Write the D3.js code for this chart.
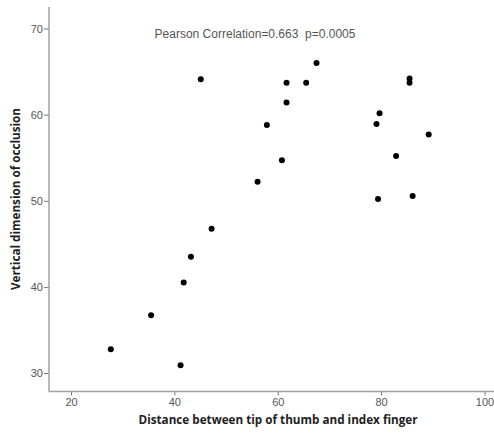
<!DOCTYPE html>
<html>
<head>
<meta charset="utf-8">
<script src="https://cdn.jsdelivr.net/npm/d3@7"></script>
<style>
  body { margin: 0; background: #fff; }
  svg { display: block; }
</style>
</head>
<body>
<svg width="494" height="437"></svg>
<script>
// distance between thumb and index finger (x) vs vertical dimension (y)
const distance = [67.5, 61.7, 65.5, 61.7, 57.9, 60.8, 56.1, 85.5, 85.5, 79.7, 79.1,
                  89.2, 82.9, 79.4, 86.1, 45.1, 47.2, 43.2, 41.8, 35.5, 27.7, 41.2]
const vertical = [66.0, 63.7, 63.7, 61.4, 58.8, 54.7, 52.2, 64.2, 63.7, 60.15, 58.9,
                  57.7, 55.2, 50.2, 50.55, 64.1, 46.75, 43.5, 40.5, 36.7, 32.75, 30.9]
const xTicks = [20, 40, 60, 80, 100]
const yTicks = [30, 40, 50, 60, 70]
const note = "Pearson Correlation=0.663  p=0.0005"

const svg = d3.select("svg")
const axisGrey = "#a0a0a0", textGrey = "#555"

const xScale = d3.scaleLinear().domain([20, 100]).range([71, 484.5])
const yScale = d3.scaleLinear().domain([30, 70]).range([373, 28.5])

const x0 = xScale.invert(49), yBottom = yScale.invert(391.5)

// x axis
const xAxis = d3.axisBottom(xScale).tickValues(xTicks).tickSize(4).tickSizeOuter(0)
const xg = svg.append("g").attr("transform", `translate(0,${yScale(yBottom)})`).call(xAxis)
xg.select(".domain").remove()
xg.append("line")
  .attr("x1", xScale(x0)).attr("x2", 494)
  .attr("stroke", axisGrey).attr("stroke-width", 1.5)

// y axis
const yAxis = d3.axisLeft(yScale).tickValues(yTicks).tickSize(5).tickSizeOuter(0)
const yg = svg.append("g").attr("transform", `translate(${xScale(x0)},0)`).call(yAxis)
yg.select(".domain").remove()
yg.append("line")
  .attr("y1", 7).attr("y2", yScale(yBottom))
  .attr("stroke", axisGrey).attr("stroke-width", 1.5)

svg.selectAll(".tick line").attr("stroke", "#777")
svg.selectAll(".tick text")
  .attr("fill", textGrey)
  .style("font-family", "'Liberation Sans', Arial, sans-serif")
  .style("font-size", "11px")
yg.selectAll(".tick text").attr("x", -6)
xg.selectAll(".tick text").attr("y", 7)

// points
svg.selectAll("circle.pt")
  .data(distance)
  .enter()
  .append("circle")
  .attr("class", "pt")
  .attr("r", 3)
  .attr("cx", d => xScale(d))
  .attr("cy", (d, i) => yScale(vertical[i]))
  .style("fill", "#000")

// correlation note
svg.append("text")
  .attr("x", 255).attr("y", 38)
  .attr("text-anchor", "middle")
  .attr("fill", textGrey)
  .style("white-space", "pre")
  .style("font-family", "'Liberation Sans', Arial, sans-serif")
  .style("font-size", "12px")
  .text(note)

// axis titles
svg.append("text")
  .attr("x", 278).attr("y", 424)
  .attr("text-anchor", "middle")
  .attr("fill", "#222")
  .style("font-family", "'Open Sans', sans-serif")
  .style("font-weight", "bold")
  .style("font-size", "11.7px")
  .text("Distance between tip of thumb and index finger")

svg.append("text")
  .attr("transform", "translate(20,199) rotate(-90)")
  .attr("text-anchor", "middle")
  .attr("fill", "#222")
  .style("font-family", "'Open Sans', sans-serif")
  .style("font-weight", "bold")
  .style("font-size", "11.7px")
  .text("Vertical dimension of occlusion")
</script>
</body>
</html>
